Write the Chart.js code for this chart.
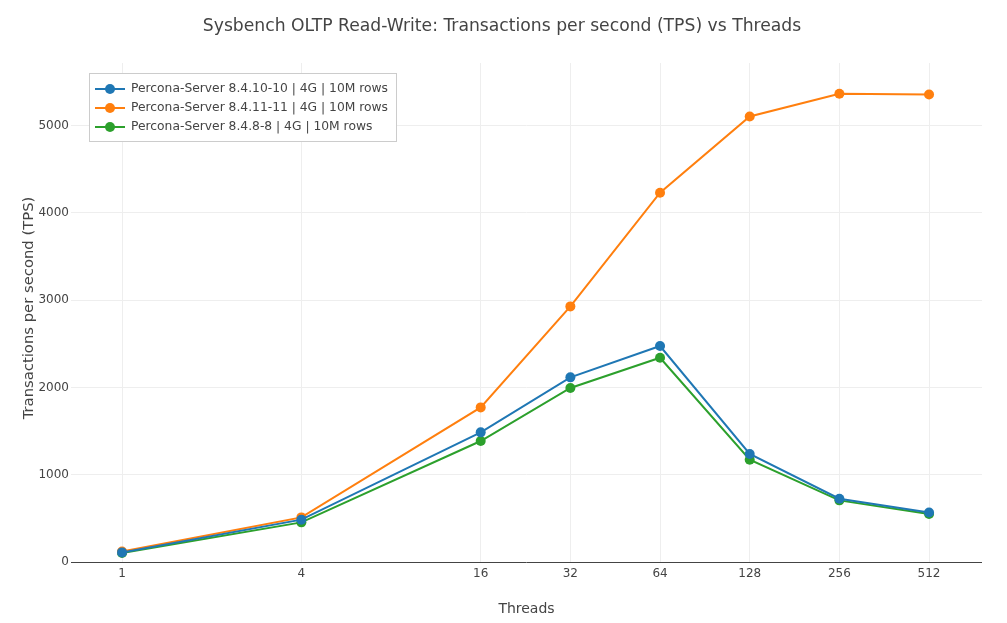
<!DOCTYPE html>
<html>
<head>
<meta charset="utf-8">
<script src="https://cdn.jsdelivr.net/npm/chart.js@4/dist/chart.umd.min.js"></script>
<style>
  html, body { margin: 0; padding: 0; background: #fff; }
  #wrap { width: 1007px; height: 623px; }
</style>
</head>
<body>
<div id="wrap"><canvas id="canvas" width="1007" height="623"></canvas></div>
<script>
// data
var threads = [1, 4, 16, 32, 64, 128, 256, 512];
var tps_8_4_10 = [110, 485, 1485, 2115, 2474, 1237, 725, 568];
var tps_8_4_11 = [121, 511, 1771, 2928, 4230, 5104, 5364, 5356];
var tps_8_4_8  = [103, 454, 1386, 1993, 2340, 1172, 706, 550];
var seriesNames = [
  'Percona-Server 8.4.10-10 | 4G | 10M rows',
  'Percona-Server 8.4.11-11 | 4G | 10M rows',
  'Percona-Server 8.4.8-8 | 4G | 10M rows'
];
var xTicks = [1, 4, 16, 32, 64, 128, 256, 512];
var yTicks = [0, 1000, 2000, 3000, 4000, 5000];

var chartTitle = 'Sysbench OLTP Read-Write: Transactions per second (TPS) vs Threads';
var xTitle = 'Threads';
var yTitle = 'Transactions per second (TPS)';

var colors = ['#1f77b4', '#ff7f0e', '#2ca02c'];
var FONT = '"DejaVu Sans", verdana, arial, sans-serif';

function points( vals ){
  var list = [];
  for( var i = 0; i<threads.length; i++ ){
    list.push({ x: threads[i], y: vals[i] });
  }
  return list;
}

function makeSet( i, vals ){
  return {
    label: seriesNames[i],
    data: points( vals ),
    borderColor: colors[i],
    backgroundColor: colors[i],
    borderWidth: 2,
    pointRadius: 5,
    pointHoverRadius: 5,
    pointBorderWidth: 0,
    tension: 0
  };
}

// plotly-ish title, axis titles and boxed legend inside the plot
var decorations = {
  id: 'decorations',
  afterDraw: function( chart ){
    var ctx = chart.ctx;
    var area = chart.chartArea;
    ctx.save();
    ctx.fillStyle = '#444';
    ctx.textBaseline = 'middle';
    ctx.textAlign = 'center';
    ctx.font = '17.2px ' + FONT;
    ctx.fillText( chartTitle, 502, 27 );

    ctx.font = '14px ' + FONT;
    ctx.fillText( xTitle, (area.left + area.right)/2, 609 );
    ctx.save();
    ctx.font = '14.8px ' + FONT;
    ctx.translate( 29, 308 );
    ctx.rotate( -Math.PI/2 );
    ctx.fillText( yTitle, 0, 0 );
    ctx.restore();

    // legend
    var lx = 89.5, ly = 73.5, lw = 307, lh = 68;
    ctx.fillStyle = '#fff';
    ctx.fillRect( lx, ly, lw, lh );
    ctx.strokeStyle = '#ccc';
    ctx.lineWidth = 1;
    ctx.strokeRect( lx, ly, lw, lh );
    ctx.font = '12.3px ' + FONT;
    ctx.textAlign = 'left';
    var datasets = chart.data.datasets;
    for( var i = 0; i<datasets.length; i++ ){
      var cy = 89 + i*19;
      ctx.strokeStyle = datasets[i].borderColor;
      ctx.lineWidth = 2;
      ctx.beginPath();
      ctx.moveTo( 95, cy );
      ctx.lineTo( 125, cy );
      ctx.stroke();
      ctx.fillStyle = datasets[i].borderColor;
      ctx.beginPath();
      ctx.arc( 110, cy, 5, 0, Math.PI*2 );
      ctx.fill();
      ctx.fillStyle = '#444';
      ctx.fillText( datasets[i].label, 131, cy );
    }
    ctx.restore();
  }
};

var ctx = document.getElementById('canvas').getContext('2d');
var chart = new Chart(ctx, {
  type: 'line',
  data: {
    datasets: [
      makeSet( 0, tps_8_4_10 ),
      makeSet( 1, tps_8_4_11 ),
      makeSet( 2, tps_8_4_8 )
    ]
  },
  options: {
    responsive: false,
    animation: false,
    events: [],
    layout: { padding: { left: 0, right: 25, top: 63, bottom: 0 } },
    plugins: {
      legend: { display: false },
      title: { display: false },
      tooltip: { enabled: false }
    },
    scales: {
      x: {
        type: 'logarithmic',
        min: 0.674,
        max: 771,
        afterBuildTicks: function( scale ){
          scale.ticks = xTicks.map(function(v){ return { value: v }; });
        },
        afterFit: function( scale ){ scale.height = 61; },
        grid: { color: '#eee', lineWidth: 1, drawTicks: false },
        border: { display: false },
        ticks: {
          autoSkip: false,
          maxRotation: 0,
          padding: 5,
          color: '#444',
          font: { family: FONT, size: 12 },
          callback: function( v ){ return String(v); }
        }
      },
      y: {
        type: 'linear',
        min: 0,
        max: 5716,
        afterBuildTicks: function( scale ){
          scale.ticks = yTicks.map(function(v){ return { value: v }; });
        },
        afterFit: function( scale ){ scale.width = 71; },
        grid: {
          drawTicks: false,
          lineWidth: 1,
          color: function( c ){ return c.tick && c.tick.value === 0 ? '#444' : '#eee'; }
        },
        border: { display: false },
        ticks: {
          padding: 2,
          color: '#444',
          font: { family: FONT, size: 12 },
          callback: function( v ){ return String(v); }
        }
      }
    }
  },
  plugins: [ decorations ]
});
</script>
</body>
</html>
